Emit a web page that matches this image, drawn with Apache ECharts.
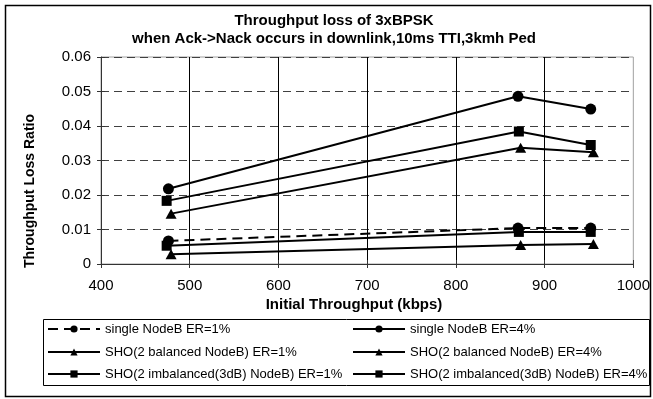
<!DOCTYPE html>
<html>
<head>
<meta charset="utf-8">
<script src="https://cdn.jsdelivr.net/npm/echarts@6/dist/echarts.min.js"></script>
<style>
html,body{margin:0;padding:0;background:#fff;}
#chart{width:653px;height:399px;}
</style>
</head>
<body>
<div id="chart"></div>
<script>
// ---- data ----
var titleLine1 = 'Throughput loss of 3xBPSK';
var titleLine2 = 'when Ack->Nack occurs in downlink,10ms TTI,3kmh Ped';
var xAxisTitle = 'Initial Throughput (kbps)';
var yAxisTitle = 'Throughput Loss Ratio';

var seriesNames = [
  'single NodeB ER=1%',
  'SHO(2 balanced NodeB) ER=1%',
  'SHO(2 imbalanced(3dB) NodeB) ER=1%',
  'single NodeB ER=4%',
  'SHO(2 balanced NodeB) ER=4%',
  'SHO(2 imbalanced(3dB) NodeB) ER=4%'
];

var singleER1_x = [476, 870, 952];
var singleER1_y = [0.0067, 0.0104, 0.0104];
var balER1_x = [479, 873, 955];
var balER1_y = [0.0028, 0.0055, 0.0058];
var imbER1_x = [474, 871, 952];
var imbER1_y = [0.0053, 0.0093, 0.0093];
var singleER4_x = [476, 870, 952];
var singleER4_y = [0.0218, 0.0486, 0.0449];
var balER4_x = [479, 873, 955];
var balER4_y = [0.0146, 0.0337, 0.0324];
var imbER4_x = [474, 871, 952];
var imbER4_y = [0.0183, 0.0384, 0.0345];

var symbols = ['circle', 'triangle', 'rect', 'circle', 'triangle', 'rect'];

function pairs(xs, ys) { return xs.map(function (x, i) { return [x, ys[i]]; }); }
var allData = [
  pairs(singleER1_x, singleER1_y),
  pairs(balER1_x, balER1_y),
  pairs(imbER1_x, imbER1_y),
  pairs(singleER4_x, singleER4_y),
  pairs(balER4_x, balER4_y),
  pairs(imbER4_x, imbER4_y)
];

var FONT = '"Liberation Sans", Arial, sans-serif';
var chart = echarts.init(document.getElementById('chart'), null, {renderer: 'canvas'});

var series = allData.map(function (d, i) {
  var sym = symbols[i];
  return {
    name: seriesNames[i],
    type: 'line',
    data: d,
    symbol: sym,
    symbolSize: sym === 'rect' ? 10 : (sym === 'triangle' ? [11, 10] : 11),
    showAllSymbol: true,
    color: '#000',
    itemStyle: {color: '#000'},
    lineStyle: {color: '#000', width: 2, type: i === 0 ? [10, 6] : 'solid'},
    emphasis: {disabled: true},
    z: 5
  };
});

// one legend per item so that each sits exactly in its column/row
var legendCols = [47, 47, 47, 352, 352, 352];
var legendRows = [329, 352, 374, 329, 352, 374];
var legends = seriesNames.map(function (n, i) {
  return {
    left: legendCols[i], top: legendRows[i] - 8, orient: 'horizontal',
    itemWidth: 52, itemHeight: 9, padding: 0,
    data: [n],
    textStyle: {color: '#000', fontSize: 13, fontFamily: FONT, lineHeight: 16},
    selectedMode: false
  };
});

var option = {
  animation: false,
  backgroundColor: '#fff',
  textStyle: {fontFamily: FONT},
  grid: {left: 101, top: 57, width: 535, height: 207, show: true, borderColor: '#a0a0a0', borderWidth: 1, backgroundColor: '#fff'},
  xAxis: [{
    type: 'value', min: 400, max: 1000, interval: 100,
    axisLine: {show: true, lineStyle: {color: '#333', width: 1}},
    axisTick: {show: true, inside: false, length: 4, lineStyle: {color: '#333'}},
    axisLabel: {color: '#000', fontSize: 15, fontFamily: FONT, margin: 14,
      formatter: function (v) { return String(v); }},
    splitLine: {show: true, showMinLine: false, showMaxLine: false, lineStyle: {color: '#000', width: 1, type: 'solid'}}
  }, {
    type: 'value', min: 400, max: 1000, interval: 100, position: 'bottom',
    axisLine: {show: false},
    axisTick: {show: true, inside: true, length: 4, lineStyle: {color: '#333'}},
    axisLabel: {show: false},
    splitLine: {show: false}
  }],
  yAxis: [{
    type: 'value', min: 0, max: 0.06, interval: 0.01,
    axisLine: {show: true, lineStyle: {color: '#333', width: 1}},
    axisTick: {show: true, inside: false, length: 4, lineStyle: {color: '#333'}},
    axisLabel: {color: '#000', fontSize: 15, fontFamily: FONT, margin: 10,
      formatter: function (v) { return v === 0 ? '0' : v.toFixed(2); }},
    splitLine: {show: true, lineStyle: {color: '#404040', width: 1, type: [8, 5]}}
  }, {
    type: 'value', min: 0, max: 0.06, interval: 0.01, position: 'left',
    axisLine: {show: false},
    axisTick: {show: true, inside: true, length: 4, lineStyle: {color: '#333'}},
    axisLabel: {show: false},
    splitLine: {show: false}
  }],
  legend: legends,
  graphic: [
    {type: 'rect', shape: {x: 5.5, y: 5.5, width: 645, height: 391}, style: {fill: 'none', stroke: '#000', lineWidth: 1.5}, z: -10, silent: true},
    {type: 'rect', shape: {x: 43.5, y: 319.5, width: 606, height: 66}, style: {fill: 'none', stroke: '#000', lineWidth: 1}, silent: true},
    {type: 'text', x: 334, y: 21, style: {text: titleLine1, fill: '#000', font: 'bold 15px ' + FONT, textAlign: 'center', textVerticalAlign: 'middle'}, silent: true},
    {type: 'text', x: 334, y: 39, style: {text: titleLine2, fill: '#000', font: 'bold 15px ' + FONT, textAlign: 'center', textVerticalAlign: 'middle'}, silent: true},
    {type: 'text', x: 354, y: 305, style: {text: xAxisTitle, fill: '#000', font: 'bold 15px ' + FONT, textAlign: 'center', textVerticalAlign: 'middle'}, silent: true},
    {type: 'text', x: 30, y: 191, rotation: Math.PI / 2, style: {text: yAxisTitle, fill: '#000', font: 'bold 14px ' + FONT, textAlign: 'center', textVerticalAlign: 'middle'}, silent: true}
  ],
  series: series
};
chart.setOption(option);
</script>
</body>
</html>
